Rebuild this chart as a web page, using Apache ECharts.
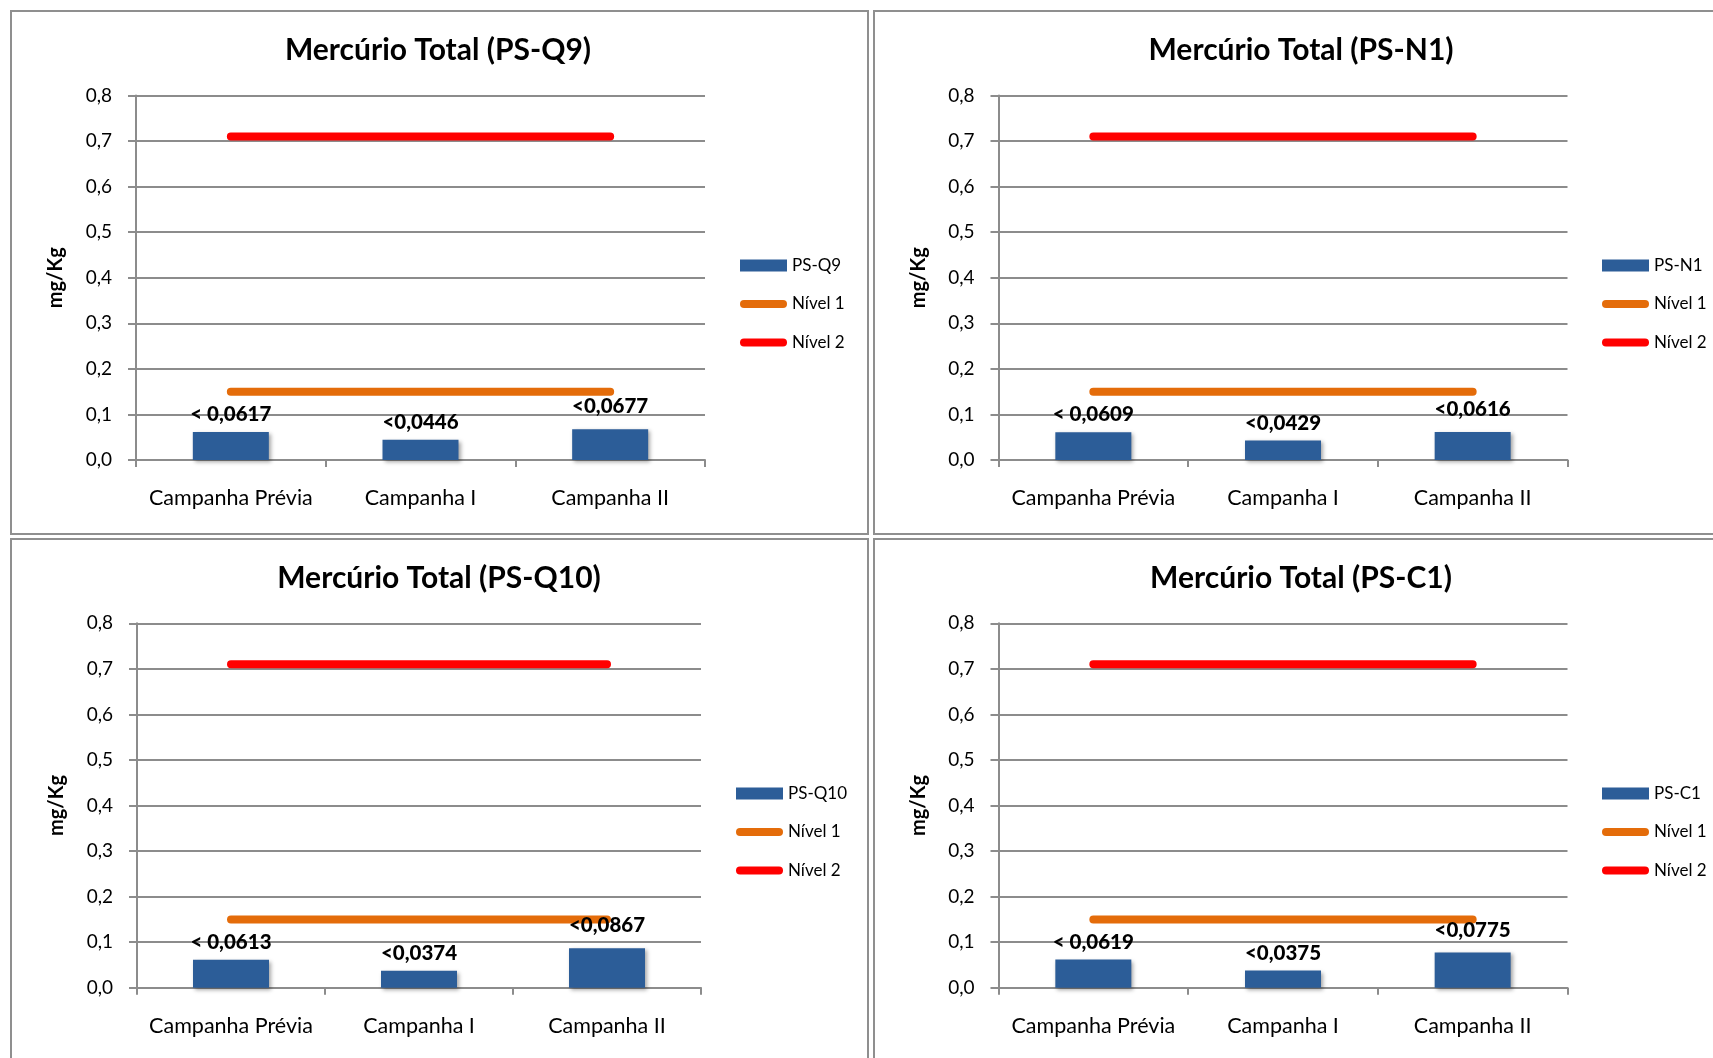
<!DOCTYPE html>
<html>
<head>
<meta charset="utf-8">
<script src="https://cdn.jsdelivr.net/npm/echarts@6/dist/echarts.min.js"></script>
<style>
html,body{margin:0;padding:0;background:#fff;}
#c{width:1713px;height:1058px;}
</style>
</head>
<body>
<div id="c"></div>
<script>
// ---- data ----
const categories = ['Campanha Prévia', 'Campanha I', 'Campanha II'];
const yTickLabels = ['0,0', '0,1', '0,2', '0,3', '0,4', '0,5', '0,6', '0,7', '0,8'];
const stations = ['PS-Q9', 'PS-N1', 'PS-Q10', 'PS-C1'];
const valuesQ9 = [0.0617, 0.0446, 0.0677];
const valuesN1 = [0.0609, 0.0429, 0.0616];
const valuesQ10 = [0.0613, 0.0374, 0.0867];
const valuesC1 = [0.0619, 0.0375, 0.0775];
const labelsQ9 = ['< 0,0617', '<0,0446', '<0,0677'];
const labelsN1 = ['< 0,0609', '<0,0429', '<0,0616'];
const labelsQ10 = ['< 0,0613', '<0,0374', '<0,0867'];
const labelsC1 = ['< 0,0619', '<0,0375', '<0,0775'];
const nivel1 = [0.15, 0.15, 0.15];
const nivel2 = [0.71, 0.71, 0.71];

const stationValues = [valuesQ9, valuesN1, valuesQ10, valuesC1];
const stationLabels = [labelsQ9, labelsN1, labelsQ10, labelsC1];

// ---- layout (pixels) ----
const FONT = 'Lato, "Open Sans", sans-serif';
const panels = [
  { grid: { left: 136, top: 95.5, width: 569, height: 364.5 }, titleX: 438, titleY: 35, legendX: 740, legendY: 257, border: [11, 11, 857, 523] },
  { grid: { left: 998.5, top: 95.5, width: 569, height: 364.5 }, titleX: 1301, titleY: 35, legendX: 1602, legendY: 257, border: [874, 11, 900, 523] },
  { grid: { left: 137, top: 623.3, width: 564, height: 364.4 }, titleX: 439, titleY: 563, legendX: 736, legendY: 785, border: [11, 539, 857, 600] },
  { grid: { left: 998.5, top: 623.3, width: 569, height: 364.4 }, titleX: 1301, titleY: 563, legendX: 1602, legendY: 785, border: [874, 539, 900, 600] }
];

const BAR = '#2C5D98';
const ORANGE = '#E46C0A';
const RED = '#FF0000';
const GRIDC = '#8C8C8C';
const stadium = 'path://M4,0H43A4,4,0,0,1,43,8H4A4,4,0,0,1,4,0Z';

const option = {
  backgroundColor: '#fff',
  animation: false,
  title: [], grid: [], xAxis: [], yAxis: [], legend: [], series: [],
  graphic: []
};

panels.forEach((p, i) => {
  const st = stations[i];
  option.graphic.push({
    type: 'rect', silent: true, z: -1,
    shape: { x: p.border[0], y: p.border[1], width: p.border[2], height: p.border[3] },
    style: { fill: 'none', stroke: '#8F8F8F', lineWidth: 2 }
  });
  option.title.push({
    text: 'Mercúrio Total (' + st + ')',
    left: p.titleX, top: p.titleY, textAlign: 'center', padding: 0,
    textStyle: { fontFamily: FONT, fontWeight: 'bold', fontSize: 30, color: '#000' }
  });
  option.grid.push(Object.assign({ containLabel: false }, p.grid));
  option.xAxis.push({
    type: 'category', gridIndex: i, data: categories,
    axisLine: { show: true, lineStyle: { color: GRIDC, width: 2 } },
    axisTick: { show: true, length: 7, lineStyle: { color: GRIDC, width: 2 } },
    axisLabel: { interval: 0, margin: 27, fontFamily: FONT, fontSize: 21.5, color: '#000' }
  });
  option.yAxis.push({
    type: 'value', gridIndex: i, min: 0, max: 0.8, interval: 0.1,
    name: 'mg/Kg', nameLocation: 'middle', nameRotate: 90, nameGap: 70,
    nameTextStyle: { fontFamily: FONT, fontWeight: 'bold', fontSize: 20, color: '#000' },
    axisLine: { show: true, lineStyle: { color: GRIDC, width: 2 } },
    axisTick: { show: true, length: 8, lineStyle: { color: GRIDC, width: 2 } },
    splitLine: { show: true, lineStyle: { color: GRIDC, width: 2 } },
    axisLabel: {
      margin: 24, fontFamily: FONT, fontSize: 19, color: '#000',
      formatter: v => yTickLabels[Math.round(v * 10)]
    }
  });
  option.legend.push({
    orient: 'vertical', left: p.legendX, top: p.legendY, padding: 0,
    itemWidth: 47, itemHeight: 12, itemGap: 21.5,
    itemStyle: { borderWidth: 0 },
    textStyle: { fontFamily: FONT, fontSize: 17, lineHeight: 16, color: '#000' },
    data: [
      { name: st, icon: 'rect' },
      { name: 'Nível 1', icon: stadium },
      { name: 'Nível 2', icon: stadium }
    ]
  });
  const labs = stationLabels[i];
  option.series.push({
    name: st, type: 'bar', xAxisIndex: i, yAxisIndex: i,
    barWidth: 76,
    itemStyle: { color: BAR, shadowColor: 'rgba(0,0,0,0.35)', shadowBlur: 4, shadowOffsetX: 2, shadowOffsetY: 2 },
    label: {
      show: true, position: 'top', distance: 7,
      fontFamily: FONT, fontWeight: 900, fontSize: 20.5, color: '#000',
      formatter: q => labs[q.dataIndex]
    },
    data: stationValues[i].map((v, k) => k === 2 ? { value: v, label: { distance: 12 } } : v),
    z: 4
  });
  option.series.push({
    name: 'Nível 1', type: 'line', xAxisIndex: i, yAxisIndex: i,
    symbol: 'none', color: ORANGE,
    lineStyle: { color: ORANGE, width: 8, cap: 'round' },
    data: nivel1, z: 3
  });
  option.series.push({
    name: 'Nível 2', type: 'line', xAxisIndex: i, yAxisIndex: i,
    symbol: 'none', color: RED,
    lineStyle: { color: RED, width: 8, cap: 'round' },
    data: nivel2, z: 3
  });
});

const chart = echarts.init(document.getElementById('c'), null, { renderer: 'canvas' });
chart.setOption(option);
</script>
</body>
</html>
